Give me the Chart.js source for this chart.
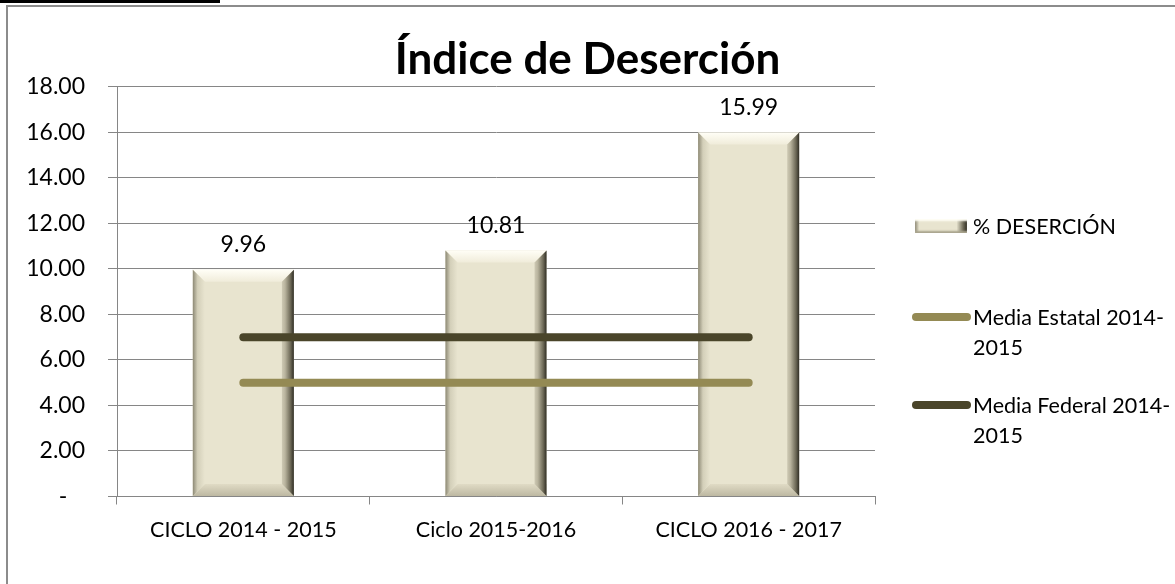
<!DOCTYPE html>
<html>
<head>
<meta charset="utf-8">
<script src="https://cdn.jsdelivr.net/npm/chart.js@4.4.1/dist/chart.umd.min.js"></script>
<style>
  html, body { margin: 0; padding: 0; background: #fff; }
  #wrap { position: relative; width: 1175px; height: 584px; overflow: hidden; background: #fff; font-family: Lato, "Open Sans", sans-serif; }
  #topbar { position: absolute; left: 0; top: 0; width: 220px; height: 3px; background: #000; }
  #frame { position: absolute; left: 6px; top: 5px; width: 1200px; height: 700px; border-left: 2px solid #8c8c8c; border-top: 2px solid #8c8c8c; }
  #c { position: absolute; left: 0; top: 0; }
  #legend { position: absolute; left: 0; top: 0; }
  .li { position: absolute; left: 912px; }
  .mk { position: absolute; }
  .tx { position: absolute; left: 61px; width: 205px; font-size: 21.5px; line-height: 30px; color: #000; }
</style>
</head>
<body>
<div id="wrap">
  <div id="topbar"></div>
  <div id="frame"></div>
  <canvas id="c" width="1175" height="584"></canvas>
  <div id="legend"></div>
</div>
<script>
// ---- data ----
const categories = ['CICLO 2014 - 2015', 'Ciclo 2015-2016', 'CICLO 2016 - 2017'];
const desercion = [9.96, 10.81, 15.99];
const mediaEstatal = [5.0, 5.0, 5.0];
const mediaFederal = [7.0, 7.0, 7.0];
const yTickLabels = ['-   ', '2.00', '4.00', '6.00', '8.00', '10.00', '12.00', '14.00', '16.00', '18.00'];
const seriesNames = ['% DESERCIÓN', 'Media Estatal 2014-2015', 'Media Federal 2014-2015'];
const titleText = 'Índice de Deserción';

const FONT = 'Lato, "Open Sans", sans-serif';
const BAR_COLOR = '#e8e4cf';
const ESTATAL_COLOR = '#948a54';
const FEDERAL_COLOR = '#4a452a';
const GRID = '#868686';

// bevel effect on bars
const bevelPlugin = {
  id: 'bevel',
  afterDatasetDraw(chart, args) {
    if (args.index !== 0) return;
    const ctx = chart.ctx;
    const meta = chart.getDatasetMeta(0);
    meta.data.forEach(el => {
      const p = el.getProps(['x', 'y', 'base', 'width'], true);
      const x0 = p.x - p.width / 2, x1 = p.x + p.width / 2;
      const y0 = Math.min(p.y, p.base), y1 = Math.max(p.y, p.base);
      const b = 12;
      ctx.save();
      // top
      let g = ctx.createLinearGradient(0, y0, 0, y0 + b);
      g.addColorStop(0, '#fffef6'); g.addColorStop(1, '#f0ecda');
      ctx.fillStyle = g;
      ctx.beginPath(); ctx.moveTo(x0, y0); ctx.lineTo(x1, y0); ctx.lineTo(x1 - b, y0 + b); ctx.lineTo(x0 + b, y0 + b); ctx.closePath(); ctx.fill();
      // bottom
      g = ctx.createLinearGradient(0, y1 - b, 0, y1);
      g.addColorStop(0, '#e0dbc5'); g.addColorStop(1, '#bdb8a2');
      ctx.fillStyle = g;
      ctx.beginPath(); ctx.moveTo(x0, y1); ctx.lineTo(x1, y1); ctx.lineTo(x1 - b, y1 - b); ctx.lineTo(x0 + b, y1 - b); ctx.closePath(); ctx.fill();
      // left
      g = ctx.createLinearGradient(x0, 0, x0 + b, 0);
      g.addColorStop(0, '#8d8975'); g.addColorStop(0.4, '#d3cfb9'); g.addColorStop(1, BAR_COLOR);
      ctx.fillStyle = g;
      ctx.beginPath(); ctx.moveTo(x0, y0); ctx.lineTo(x0 + b, y0 + b); ctx.lineTo(x0 + b, y1 - b); ctx.lineTo(x0, y1); ctx.closePath(); ctx.fill();
      // right
      g = ctx.createLinearGradient(x1 - b - 4, 0, x1, 0);
      g.addColorStop(0, BAR_COLOR); g.addColorStop(0.45, '#b9b49e'); g.addColorStop(0.8, '#6b6755'); g.addColorStop(1, '#2f2d24');
      ctx.fillStyle = g;
      ctx.beginPath(); ctx.moveTo(x1, y0); ctx.lineTo(x1, y1); ctx.lineTo(x1 - b, y1 - b); ctx.lineTo(x1 - b, y0 + b); ctx.closePath(); ctx.fill();
      ctx.restore();
    });
  }
};

// value labels over bars
const valueLabels = {
  id: 'valueLabels',
  afterDatasetsDraw(chart) {
    const ctx = chart.ctx;
    const meta = chart.getDatasetMeta(0);
    ctx.save();
    ctx.font = '23px ' + FONT;
    ctx.fillStyle = '#000';
    ctx.textAlign = 'center';
    ctx.textBaseline = 'middle';
    meta.data.forEach((el, i) => {
      ctx.fillText(desercion[i].toFixed(2), el.x, el.y - 25);
    });
    ctx.restore();
  }
};

const chart = new Chart(document.getElementById('c'), {
  type: 'bar',
  data: {
    labels: categories,
    datasets: [
      { type: 'bar', label: seriesNames[0], data: desercion, backgroundColor: BAR_COLOR, borderWidth: 0,
        barPercentage: 0.4, categoryPercentage: 1.0, order: 3 },
      { type: 'line', label: seriesNames[1], data: mediaEstatal, borderColor: ESTATAL_COLOR, backgroundColor: ESTATAL_COLOR,
        borderWidth: 8, borderCapStyle: 'round', pointRadius: 0, tension: 0, fill: false, order: 1 },
      { type: 'line', label: seriesNames[2], data: mediaFederal, borderColor: FEDERAL_COLOR, backgroundColor: FEDERAL_COLOR,
        borderWidth: 8, borderCapStyle: 'round', pointRadius: 0, tension: 0, fill: false, order: 2 }
    ]
  },
  options: {
    responsive: false,
    animation: false,
    layout: { padding: 0 },
    plugins: {
      legend: { display: false },
      tooltip: { enabled: false },
      title: {
        display: true, text: titleText, color: '#000',
        font: { family: FONT, size: 44, weight: 'bold', lineHeight: 1.2 },
        padding: { top: 33, bottom: 1 }
      }
    },
    scales: {
      x: {
        grid: { display: true, offset: true, drawOnChartArea: false, drawTicks: true, tickLength: 8, color: GRID, lineWidth: 1 },
        border: { display: true, color: GRID, width: 1 },
        ticks: { color: '#000', font: { family: FONT, size: 21.5 }, padding: 13, maxRotation: 0 },
        afterFit(s) { s.height = 87.5; }
      },
      y: {
        min: 0, max: 18,
        grid: { color: GRID, lineWidth: 1, tickLength: 9, drawTicks: true },
        border: { display: true, color: GRID, width: 1 },
        ticks: { stepSize: 2, color: '#000', font: { family: FONT, size: 23 }, padding: 23,
          callback: (v, i) => yTickLabels[i] },
        afterFit(s) { s.width = 117; }
      },
      yRight: {
        position: 'right', display: true,
        grid: { display: false }, border: { display: false }, ticks: { display: false },
        afterFit(s) { s.width = 300; }
      }
    }
  },
  plugins: [bevelPlugin, valueLabels]
});

// HTML legend built from the datasets
const legend = document.getElementById('legend');
const legendY = [226, 317, 405];
chart.data.datasets.forEach((ds, i) => {
  const item = document.createElement('div');
  item.className = 'li';
  item.style.top = (legendY[i] - 15) + 'px';
  const mk = document.createElement('div');
  mk.className = 'mk';
  if (ds.type === 'bar') {
    Object.assign(mk.style, { left: '3px', top: '8px', width: '52px', height: '14px',
      background: 'linear-gradient(to right, #8d8975 0%, #e8e4cf 8%, #e8e4cf 80%, #6b6755 93%, #2f2d24 100%)',
      boxShadow: 'inset 0 3px 2px -1px #fffef6, inset 0 -3px 2px -1px #a9a48e' });
  } else {
    Object.assign(mk.style, { left: '0px', top: '11px', width: '59px', height: '8px', borderRadius: '4px', background: ds.borderColor });
  }
  const tx = document.createElement('div');
  tx.className = 'tx';
  tx.textContent = ds.label;
  item.appendChild(mk);
  item.appendChild(tx);
  legend.appendChild(item);
});
</script>
</body>
</html>
